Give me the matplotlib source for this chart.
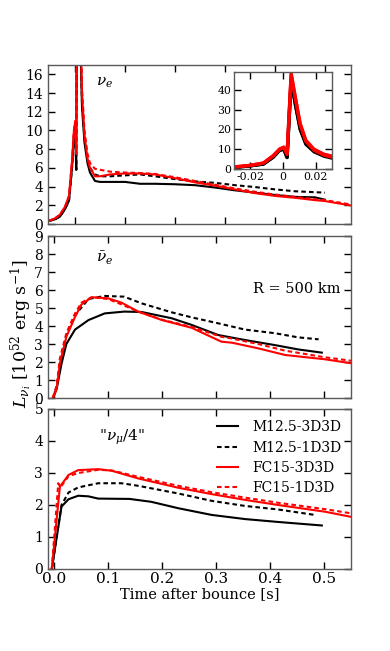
import matplotlib
matplotlib.use("Agg")
import matplotlib.pyplot as plt
import numpy as np

plt.rcParams['font.family'] = ['DejaVu Serif']
plt.rcParams['mathtext.fontset'] = 'dejavuserif'
plt.rcParams['font.size'] = 10

labels = ["M12.5-3D3D", "M12.5-1D3D", "FC15-3D3D", "FC15-1D3D"]

# ---- nu_e (top panel + inset) ----
t_nue_M = [-0.054, -0.04, -0.03, -0.02, -0.012, -0.006, -0.002, 0.0005, 0.0025, 0.005, 0.0075,
           0.0105, 0.014, 0.019, 0.025, 0.03, 0.04, 0.05, 0.07, 0.1, 0.13, 0.16, 0.2, 0.24,
           0.28, 0.32, 0.36, 0.4, 0.44, 0.48, 0.5]
t_nue_FC = t_nue_M + [0.55]
nue_M_3D = [0.3, 0.5, 0.8, 1.6, 2.5, 6.0, 9.5, 10.0, 5.8, 45, 33, 20, 12.5, 8.7, 6.5, 5.5,
            4.6, 4.5, 4.5, 4.5, 4.3, 4.3, 4.25, 4.15, 3.9, 3.6, 3.35, 3.1, 2.9, 2.85, 2.6]
nue_M_1D = [0.3, 0.5, 0.8, 1.6, 2.5, 6.0, 9.5, 10.0, 5.8, 45, 33, 20.5, 13, 9.2, 7.0, 6.0,
            5.3, 5.1, 5.1, 5.2, 5.3, 5.1, 4.8, 4.55, 4.4, 4.15, 3.95, 3.7, 3.5, 3.4, 3.35]
nue_FC_3D = [0.3, 0.6, 1.0, 1.85, 3.0, 6.7, 10.1, 11.0, 7.5, 48, 36, 22.5, 14, 9.5, 7.0, 6.0,
             5.1, 5.1, 5.3, 5.4, 5.4, 5.3, 4.9, 4.45, 4.1, 3.7, 3.3, 3.0, 2.8, 2.55, 2.45, 2.0]
nue_FC_1D = [0.3, 0.6, 1.0, 1.85, 3.0, 6.7, 10.1, 11.0, 7.5, 48, 36.5, 23, 14.5, 10, 7.5, 6.5,
             5.9, 5.8, 5.6, 5.5, 5.45, 5.35, 5.0, 4.6, 4.2, 3.8, 3.45, 3.15, 2.9, 2.65, 2.55, 2.1]

# ---- anti nu_e (middle panel) ----
t_anue_M3 = [-0.002, 0.005, 0.014, 0.023, 0.039, 0.064, 0.094, 0.13, 0.162, 0.218, 0.255,
             0.304, 0.354, 0.409, 0.452, 0.496]
anue_M_3D = [0, 0.5, 1.9, 3.0, 3.8, 4.33, 4.7, 4.8, 4.78, 4.43, 4.06, 3.5, 3.22, 2.94, 2.7, 2.52]
t_anue_M1 = [-0.002, 0.005, 0.014, 0.023, 0.039, 0.064, 0.094, 0.13, 0.162, 0.218, 0.255,
             0.304, 0.354, 0.409, 0.452, 0.49]
anue_M_1D = [0, 0.6, 2.2, 3.5, 4.6, 5.5, 5.67, 5.63, 5.26, 4.76, 4.48, 4.15, 3.8, 3.6, 3.37, 3.26]
t_anue_FC = [-0.002, 0.005, 0.011, 0.023, 0.039, 0.051, 0.07, 0.1, 0.125, 0.156, 0.2, 0.255,
             0.31, 0.33, 0.378, 0.428, 0.502, 0.55]
anue_FC_3D = [0, 0.5, 1.93, 3.4, 4.5, 5.2, 5.6, 5.54, 5.3, 4.8, 4.33, 3.9, 3.13, 3.07, 2.76,
              2.39, 2.15, 1.93]
anue_FC_1D = [0, 0.7, 2.2, 3.6, 4.7, 5.3, 5.6, 5.5, 5.2, 4.8, 4.35, 3.95, 3.4, 3.3, 3.0,
              2.63, 2.26, 2.07]

# ---- nu_mu/4 (bottom panel) ----
t_numu_M3 = [-0.004, 0.014, 0.027, 0.045, 0.064, 0.082, 0.14, 0.18, 0.23, 0.292, 0.354, 0.415, 0.496]
numu_M_3D = [0, 1.95, 2.18, 2.29, 2.27, 2.2, 2.19, 2.1, 1.9, 1.69, 1.56, 1.47, 1.36]
t_numu_M1 = [-0.004, 0.014, 0.027, 0.045, 0.082, 0.125, 0.156, 0.23, 0.292, 0.354, 0.415, 0.483]
numu_M_1D = [0, 2.0, 2.39, 2.55, 2.68, 2.68, 2.6, 2.36, 2.13, 1.97, 1.86, 1.69]
t_numu_F3 = [-0.004, 0.011, 0.027, 0.045, 0.082, 0.107, 0.156, 0.23, 0.292, 0.354, 0.415, 0.502, 0.55]
numu_FC_3D = [0, 2.57, 2.94, 3.09, 3.12, 3.07, 2.83, 2.54, 2.34, 2.16, 2.0, 1.79, 1.63]
t_numu_F1 = [-0.004, 0.008, 0.012, 0.027, 0.045, 0.082, 0.107, 0.156, 0.23, 0.292, 0.354,
             0.415, 0.502, 0.55]
numu_FC_1D = [0, 2.68, 2.55, 2.9, 3.0, 3.1, 3.08, 2.88, 2.6, 2.4, 2.23, 2.07, 1.87, 1.74]

styles = [dict(color='black', ls='-'),
          dict(color='black', ls=(0, (2.2, 1.5))),
          dict(color='red', ls='-'),
          dict(color='red', ls=(0, (2.2, 1.5)))]
LW = 1.5

fig = plt.figure(figsize=(3.9, 6.51), dpi=100)
L, W = 48/390, 303/390
ax1 = fig.add_axes([L, 1-224/651, W, 159/651])
ax2 = fig.add_axes([L, 1-398/651, W, 162/651])
ax3 = fig.add_axes([L, 1-569/651, W, 160/651])
axi = fig.add_axes([234/390, 1-169/651, 98/390, 97/651])


def style_ax(ax, fs=10, length=5):
    ax.tick_params(direction='in', top=True, right=True, length=length, width=1,
                   labelsize=fs, color='black')
    for s in ax.spines.values():
        s.set_color('0.35')
        s.set_linewidth(1.0)


# top
for (t, y), st in zip([(t_nue_M, nue_M_3D), (t_nue_M, nue_M_1D),
                       (t_nue_FC, nue_FC_3D), (t_nue_FC, nue_FC_1D)], styles):
    ax1.plot(t, y, lw=LW, **st)
ax1.set_xlim(-0.054, 0.552)
ax1.set_ylim(0, 17)
ax1.set_xticks([0.0, 0.1, 0.2, 0.3, 0.4, 0.5])
ax1.set_xticklabels([])
ax1.set_yticks(range(0, 17, 2))
style_ax(ax1)
ax1.text(0.188, 0.89, r'$\nu_e$', transform=ax1.transAxes, ha='center', va='center', fontsize=11)

# inset
for (t, y), st in zip([(t_nue_M, nue_M_3D), (t_nue_M, nue_M_1D),
                       (t_nue_FC, nue_FC_3D), (t_nue_FC, nue_FC_1D)], styles):
    axi.plot(t, y, lw=2.4, color=st['color'], ls='-')
axi.set_xlim(-0.03, 0.03)
axi.set_ylim(0, 49)
axi.set_xticks([-0.02, 0, 0.02])
axi.set_xticklabels(['-0.02', '0', '0.02'])
axi.set_yticks([0, 10, 20, 30, 40])
style_ax(axi, fs=7.8, length=5)
axi.tick_params(pad=2)

# middle
for (t, y), st in zip([(t_anue_M3, anue_M_3D), (t_anue_M1, anue_M_1D),
                       (t_anue_FC, anue_FC_3D), (t_anue_FC, anue_FC_1D)], styles):
    ax2.plot(t, y, lw=LW, **st)
ax2.set_xlim(-0.011, 0.55)
ax2.set_ylim(0, 9)
ax2.set_xticks([0.0, 0.1, 0.2, 0.3, 0.4, 0.5])
ax2.set_xticklabels([])
ax2.set_yticks(range(0, 10))
style_ax(ax2)
ax2.text(0.188, 0.864, r'$\bar{\nu}_e$', transform=ax2.transAxes, ha='center', va='center', fontsize=11)
ax2.text(0.964, 0.673, 'R = 500 km', transform=ax2.transAxes, ha='right', va='center', fontsize=10.5)

# bottom
for (t, y), st, lab in zip([(t_numu_M3, numu_M_3D), (t_numu_M1, numu_M_1D),
                            (t_numu_F3, numu_FC_3D), (t_numu_F1, numu_FC_1D)], styles, labels):
    ax3.plot(t, y, lw=LW, label=lab, **st)
ax3.set_xlim(-0.011, 0.55)
ax3.set_ylim(0, 5)
ax3.set_xticks([0.0, 0.1, 0.2, 0.3, 0.4, 0.5])
ax3.set_xticklabels(['0.0', '0.1', '0.2', '0.3', '0.4', '0.5'])
ax3.set_yticks(range(0, 6))
style_ax(ax3)
ax3.tick_params(axis='x', labelsize=11, pad=2)
ax3.set_xlabel('Time after bounce [s]', fontsize=10.5, labelpad=1)
ax3.text(0.245, 0.82, r'"$\nu_\mu/4$"', transform=ax3.transAxes, ha='center', va='center', fontsize=11)
ax3.legend(loc='upper right', bbox_to_anchor=(1.0, 0.99), frameon=False, fontsize=10,
           handlelength=1.5, handletextpad=1.0, labelspacing=0.45, borderaxespad=0.3)

fig.text(21/390, 1-334/651, r'$L_{\nu_i}$ [10$^{52}$ erg s$^{-1}$]', rotation=90,
         ha='center', va='center', fontsize=12.5)

fig.savefig('out.png', dpi=100)
